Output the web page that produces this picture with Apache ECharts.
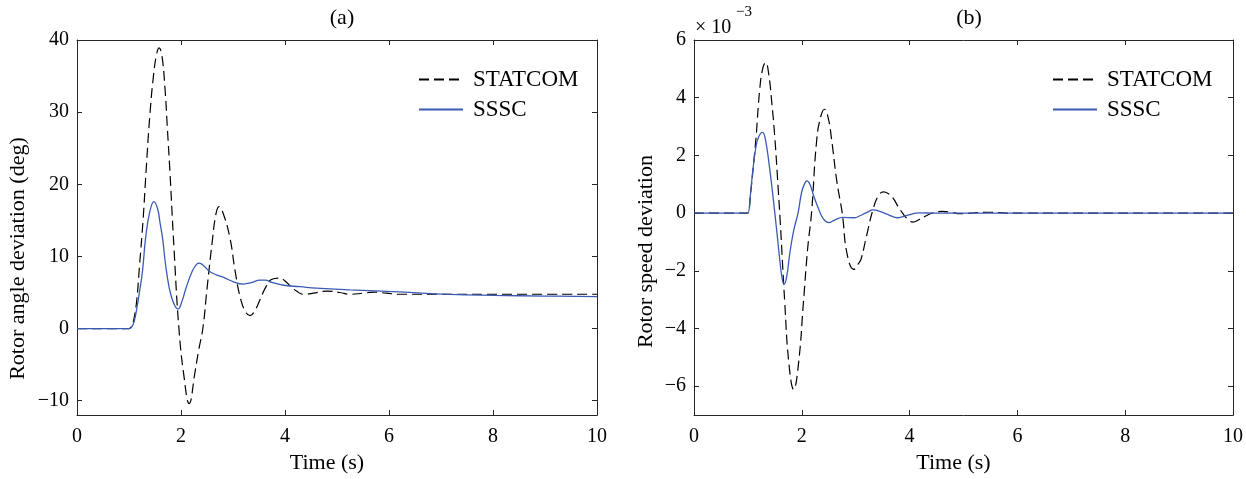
<!DOCTYPE html>
<html>
<head>
<meta charset="utf-8">
<script src="https://cdn.jsdelivr.net/npm/echarts@6/dist/echarts.min.js"></script>
<style>html,body{margin:0;padding:0;background:#fff}#c{width:1246px;height:479px}</style>
</head>
<body>
<div id="c"></div>
<script>
// ---- data ----
const seriesNames = ['STATCOM', 'SSSC'];
const timeTicks = [0, 2, 4, 6, 8, 10];
const angleTicks = [-10, 0, 10, 20, 30, 40];
const speedTicks = [-6, -4, -2, 0, 2, 4, 6]; // ×10^-3

// Panel (a): rotor angle deviation (deg) vs time (s)
const statcomAngle = [[0,0],[0.9,0],[0.97,0],[1.0,0],[1.05,0.3],[1.1,1.5],[1.15,4],[1.2,8.5],[1.27,15],[1.33,22],[1.4,29.5],[1.47,35],[1.53,38],[1.58,38.9],[1.63,38],[1.69,33.5],[1.74,27.5],[1.785,22],[1.87,10.5],[1.96,0],[2.055,-6.5],[2.157,-10.4],[2.27,-6],[2.34,-3],[2.42,0],[2.5,5.5],[2.6,12],[2.67,15.8],[2.73,16.9],[2.8,16.2],[2.94,12.6],[3.04,8],[3.15,4],[3.25,2.2],[3.33,1.8],[3.42,2.5],[3.52,4],[3.62,5.6],[3.74,6.8],[3.89,7.0],[4.0,6.6],[4.1,5.9],[4.22,5.2],[4.35,4.75],[4.55,4.9],[4.8,5.2],[5.05,5.0],[5.25,4.75],[5.5,4.9],[5.7,5.05],[5.95,4.9],[6.2,4.75],[7,4.75],[8,4.75],[10,4.75]];
const ssscAngle = [[0,0],[0.9,0],[0.97,0],[1.0,0],[1.05,0.2],[1.1,1.0],[1.15,2.8],[1.2,5],[1.26,8],[1.32,12.6],[1.4,16.2],[1.48,17.6],[1.55,16.6],[1.6,14.5],[1.644,12.6],[1.72,8],[1.82,4.3],[1.945,2.7],[2.02,3.8],[2.1,5.7],[2.22,8],[2.3,8.9],[2.35,9.07],[2.45,8.6],[2.55,7.9],[2.68,7.45],[2.85,7.0],[3.0,6.5],[3.2,6.17],[3.35,6.36],[3.52,6.72],[3.62,6.7],[3.75,6.4],[3.97,6.0],[4.29,5.8],[4.6,5.6],[5.25,5.35],[6.2,5.07],[7.17,4.74],[8,4.6],[9,4.5],[10,4.43]];

// Panel (b): rotor speed deviation (in units of 10^-3) vs time (s)
const statcomSpeed = [[0,0],[0.9,0],[0.97,0],[1.0,0],[1.05,0.7],[1.1,1.6],[1.15,2.6],[1.22,4.3],[1.28,5.05],[1.33,5.22],[1.38,4.9],[1.44,3.9],[1.5,2.6],[1.56,0.9],[1.6,-0.3],[1.684,-3.1],[1.76,-5.2],[1.85,-6.11],[1.94,-5.2],[2.03,-3.1],[2.11,-1.2],[2.18,0],[2.28,2.6],[2.36,3.4],[2.424,3.6],[2.49,3.3],[2.55,2.6],[2.65,1.1],[2.75,0],[2.84,-1.41],[2.966,-1.95],[3.05,-1.75],[3.1,-1.59],[3.2,-0.8],[3.32,0.12],[3.42,0.6],[3.515,0.735],[3.6,0.68],[3.69,0.53],[3.78,0.25],[3.87,0],[3.96,-0.2],[4.06,-0.31],[4.18,-0.22],[4.3,-0.1],[4.45,0.02],[4.61,0.06],[4.8,0.02],[4.92,-0.02],[5.2,0.01],[5.48,0.03],[5.8,0],[10,0]];
const ssscSpeed = [[0,0],[0.9,0],[0.97,0],[1.0,0],[1.05,0.7],[1.09,1.46],[1.15,2.3],[1.2,2.65],[1.271,2.8],[1.32,2.6],[1.4,1.6],[1.5,0],[1.58,-1.41],[1.63,-2.2],[1.671,-2.47],[1.72,-2.2],[1.776,-1.41],[1.85,-0.6],[1.93,0],[2.0,0.75],[2.06,1.05],[2.097,1.115],[2.15,1.0],[2.22,0.6],[2.3,0.2],[2.4,-0.2],[2.504,-0.33],[2.6,-0.25],[2.763,-0.15],[2.979,-0.16],[3.07,-0.1],[3.2,0.02],[3.33,0.11],[3.45,0.06],[3.6,-0.05],[3.78,-0.16],[3.95,-0.08],[4.18,0.01],[4.5,0],[10,0]];

// ---- styling ----
const FONT = "'Liberation Serif', 'Times New Roman', serif";
const AX = '#262626';
const BLUE = '#3a5bb5';
const fmt = v => String(v).replace('-', '\u2212');

function xAx(grid, pos, labels) {
  return {
    type: 'value', gridIndex: grid, position: pos, min: 0, max: 10, interval: 2,
    axisLine: {show: true, onZero: false, lineStyle: {color: AX, width: 1}},
    axisTick: {show: true, inside: true, length: 5, lineStyle: {color: AX}},
    axisLabel: {show: labels, margin: 12, fontFamily: FONT, fontSize: 20, color: '#000', formatter: fmt},
    splitLine: {show: false},
    name: labels ? 'Time (s)' : '', nameLocation: 'middle', nameGap: 36,
    nameTextStyle: {fontFamily: FONT, fontSize: 22, color: '#000', padding: [0, 20, 0, 0]}
  };
}
function yAx(grid, pos, labels, min, max, ticks, name, gap, pad) {
  return {
    type: 'value', gridIndex: grid, position: pos, min: min, max: max,
    axisLine: {show: true, onZero: false, lineStyle: {color: AX, width: 1}},
    axisTick: {show: true, inside: true, length: 5, customValues: ticks, lineStyle: {color: AX}},
    axisLabel: {show: labels, margin: 8, customValues: ticks, fontFamily: FONT, fontSize: 20, color: '#000', formatter: fmt},
    splitLine: {show: false},
    name: labels ? name : '', nameLocation: 'middle', nameRotate: 90, nameGap: gap,
    nameTextStyle: {fontFamily: FONT, fontSize: 22, color: '#000', padding: pad}
  };
}
function line(name, data, xi, yi) {
  const dashed = name === 'STATCOM';
  return {
    name: name, type: 'line', xAxisIndex: xi, yAxisIndex: yi, data: data,
    symbol: 'none', smooth: 0.45, animation: false,
    lineStyle: dashed ? {color: '#000', width: 1.2, type: [10, 5]} : {color: BLUE, width: 1.3, type: 'solid'},
    itemStyle: {color: dashed ? '#000' : BLUE}
  };
}
function legend(left) {
  return {
    left: left, top: 63, orient: 'vertical', itemWidth: 44, itemHeight: 14, itemGap: 7,
    selectedMode: false, data: seriesNames,
    itemStyle: {opacity: 0},
    textStyle: {fontFamily: FONT, fontSize: 23, color: '#000', padding: [0, 0, 0, 5]}
  };
}

const chart = echarts.init(document.getElementById('c'), null, {renderer: 'canvas'});
chart.setOption({
  animation: false,
  backgroundColor: '#fff',
  title: [
    {text: '(a)', left: 337, top: 2, textAlign: 'center', textStyle: {fontFamily: FONT, fontSize: 22, fontWeight: 'normal', color: '#000'}},
    {text: '(b)', left: 964, top: 2, textAlign: 'center', textStyle: {fontFamily: FONT, fontSize: 22, fontWeight: 'normal', color: '#000'}}
  ],
  grid: [
    {left: 77, top: 40, width: 520, height: 376},
    {left: 694, top: 40, width: 540, height: 376}
  ],
  legend: [legend(413), legend(1047)],
  xAxis: [xAx(0, 'bottom', true), xAx(0, 'top', false), xAx(1, 'bottom', true), xAx(1, 'top', false)],
  yAxis: [
    yAx(0, 'left', true, -12, 40, angleTicks, 'Rotor angle deviation (deg)', 48, [0, 62, 0, 0]),
    yAx(0, 'right', false, -12, 40, angleTicks, '', 0, 0),
    yAx(1, 'left', true, -7, 6, speedTicks, 'Rotor speed deviation', 37, [0, 48, 0, 0]),
    yAx(1, 'right', false, -7, 6, speedTicks, '', 0, 0)
  ],
  graphic: [
    {type: 'text', left: 695, top: 18, style: {text: '\u00d7 10', fontFamily: FONT, fontSize: 20, fill: '#000'}},
    {type: 'text', left: 736, top: 5, style: {text: '\u22123', fontFamily: FONT, fontSize: 15, fill: '#000'}}
  ],
  series: [
    line('STATCOM', statcomAngle, 0, 0),
    line('SSSC', ssscAngle, 0, 0),
    line('STATCOM', statcomSpeed, 2, 2),
    line('SSSC', ssscSpeed, 2, 2)
  ]
});
</script>
</body>
</html>
